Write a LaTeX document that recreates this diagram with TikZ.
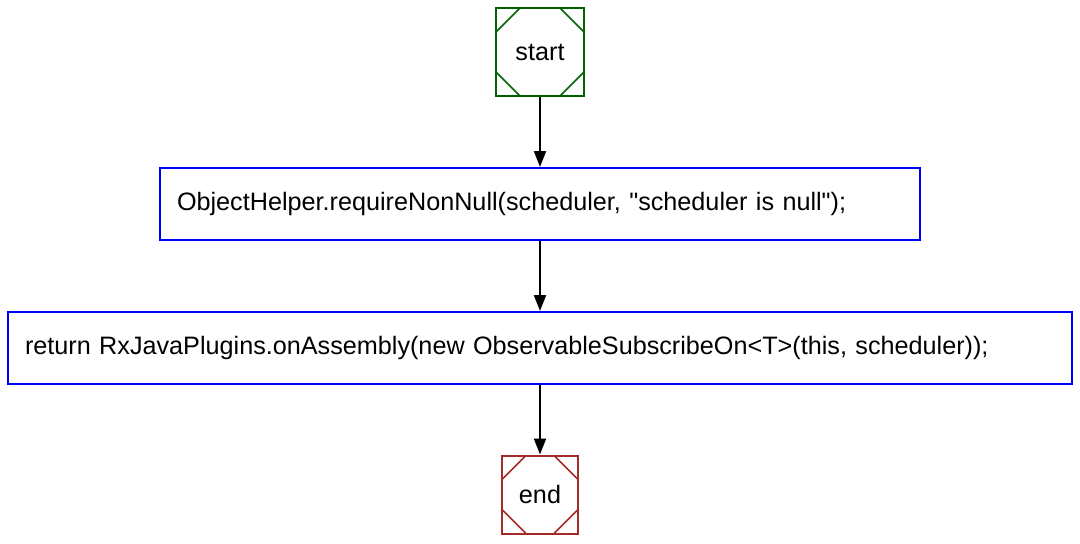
\documentclass[tikz,border=0pt]{standalone}
\usepackage{fontspec}
\setmainfont{Liberation Sans}[Ligatures=TeXOff]
\usetikzlibrary{arrows.meta,positioning}
\definecolor{FlowStart}{RGB}{0,100,0}
\definecolor{FlowEnd}{RGB}{165,42,42}
\definecolor{FlowStmt}{RGB}{0,0,255}
\definecolor{FlowInk}{gray}{0.0}
\tikzset{
    flow/diagram/.style={
        x=1pt, y=-1pt,
        font=\fontsize{25.2}{30}\selectfont,
        text=FlowInk,
        line join=miter
    },
    flow/terminal/.style={
        draw=#1, line width=2pt, inner sep=0pt,
        path picture={
            \draw[#1, line width=1.5pt]
                ([xshift=24pt]path picture bounding box.north west)
                -- ([yshift=-24pt]path picture bounding box.north west)
                ([xshift=-24pt]path picture bounding box.north east)
                -- ([yshift=-24pt]path picture bounding box.north east)
                ([xshift=24pt]path picture bounding box.south west)
                -- ([yshift=24pt]path picture bounding box.south west)
                ([xshift=-24pt]path picture bounding box.south east)
                -- ([yshift=24pt]path picture bounding box.south east);
        }
    },
    flow/statement/.style={
        draw=FlowStmt, line width=2pt, align=left,
        minimum height=72pt, inner xsep=17pt, inner ysep=0pt,
        text width=#1-34pt, minimum width=#1
    },
    flow/edge/.style={
        draw=FlowInk, line width=2pt,
        -{Triangle[length=16pt, width=12pt]}
    }
}
\begin{document}
\begin{tikzpicture}[flow/diagram]
    \useasboundingbox (0,0) rectangle (1080,544);
    \node[flow/terminal=FlowStart, minimum width=88pt, minimum height=88pt]
        (startnode) at (540,52) {\raisebox{-1.5pt}{start}};
    \node[flow/statement=760pt] (checknull) at (540,204)
        {\raisebox{-2pt}{ObjectHelper.requireNonNull(scheduler, "scheduler is null");}};
    \node[flow/statement=1064pt] (assembly) at (540,348)
        {\raisebox{-2pt}{return RxJavaPlugins.onAssembly(new ObservableSubscribeOn<T>(this, scheduler));}};
    \node[flow/terminal=FlowEnd, minimum width=76pt, minimum height=78pt]
        (endnode) at (540,494.5) {\raisebox{-1.5pt}{end}};
    \draw[flow/edge] (startnode) -- (checknull);
    \draw[flow/edge] (checknull) -- (assembly);
    \draw[flow/edge] (assembly) -- (endnode);
\end{tikzpicture}
\end{document}
